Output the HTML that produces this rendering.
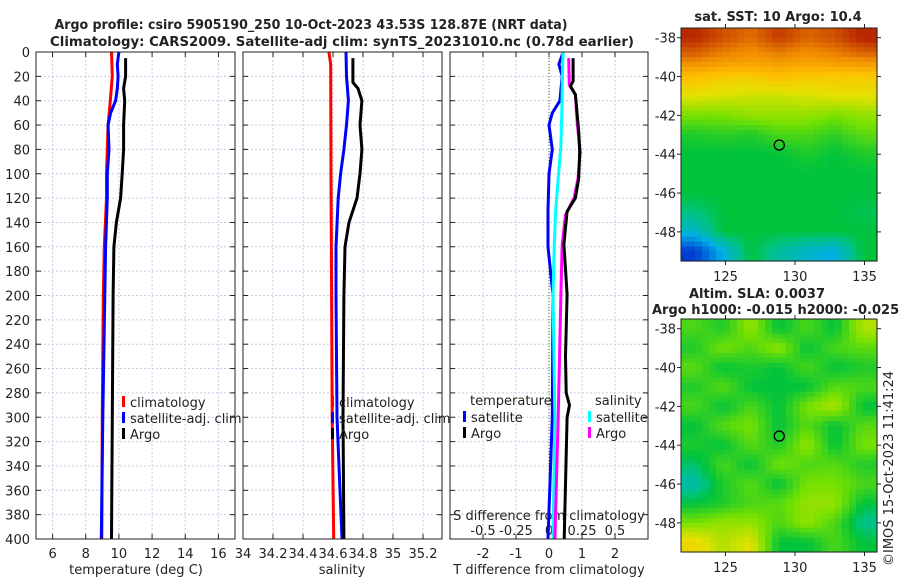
<!DOCTYPE html>
<html><head><meta charset="utf-8"><style>
body{margin:0;background:#fff;}
svg{display:block;font-family:"DejaVu Sans","Liberation Sans",sans-serif;}
</style></head><body>
<svg id="fig" width="900" height="580" viewBox="0 0 900 580"></svg>
<script>
const depthTicks=[0,20,40,60,80,100,120,140,160,180,200,220,240,260,280,300,320,340,360,380,400];
const tTicks=[6,8,10,12,14,16];
const sTicks=[34,34.2,34.4,34.6,34.8,35,35.2];
const sTickLabels=["34","34.2","34.4","34.6","34.8","35","35.2"];
const dTTicks=[-2,-1,0,1,2];
const dSTickLabels=["-0.5","-0.25","0","0.25","0.5"];
const dSTicks=[-0.5,-0.25,0,0.25,0.5];

const tClimDepth=[0,20,40,60,80,100,120,160,200,300,400];
const tClimVal=[9.55,9.6,9.48,9.35,9.3,9.25,9.25,9.12,9.06,9.0,8.97];
const tSatDepth=[0,10,20,30,40,50,60,80,100,120,160,200,300,400];
const tSatVal=[10.0,9.9,9.95,9.9,9.8,9.5,9.35,9.4,9.3,9.3,9.2,9.15,9.03,8.94];
const tArgoDepth=[5,20,30,40,60,80,100,120,140,160,200,300,400];
const tArgoVal=[10.4,10.4,10.28,10.35,10.28,10.28,10.2,10.1,9.85,9.7,9.65,9.6,9.55];

const sClimDepth=[0,10,100,300,400];
const sClimVal=[34.573,34.585,34.587,34.595,34.605];
const sSatDepth=[0,20,40,60,80,100,120,160,200,300,400];
const sSatVal=[34.687,34.69,34.703,34.69,34.673,34.651,34.635,34.62,34.62,34.627,34.66];
const sArgoDepth=[5,25,30,40,60,80,100,120,140,160,200,300,400];
const sArgoVal=[34.733,34.733,34.767,34.793,34.78,34.793,34.78,34.76,34.707,34.68,34.673,34.667,34.673];

const dTSatDepth=[0,10,20,40,50,60,80,100,130,160,200,300,400];
const dTSatVal=[0.43,0.3,0.4,0.33,0.1,0,0.1,0,-0.03,-0.03,0.12,0.1,-0.03];
const dTArgoDepth=[5,24,28,35,65,82,104,120,131,158,199,250,280,290,300,400];
const dTArgoVal=[0.73,0.73,0.65,0.8,0.9,0.93,0.9,0.8,0.55,0.45,0.55,0.5,0.52,0.62,0.55,0.46];
const dSSatDepth=[0,49,77,104,131,158,199,300,400];
const dSSatVal=[0.105,0.097,0.09,0.07,0.05,0.04,0.03,0.045,0.03];
const dSArgoDepth=[5,27,35,60,82,104,120,134,158,199,300,400];
const dSArgoVal=[0.149,0.154,0.2,0.215,0.236,0.22,0.19,0.125,0.1,0.09,0.07,0.045];

const lonTicks=[125,130,135];
const latTicks=[-38,-40,-42,-44,-46,-48];
const sstGrid=[
[0.92,0.88,0.85,0.9,0.86,0.88,0.93],
[0.85,0.82,0.8,0.82,0.8,0.82,0.84],
[0.72,0.7,0.7,0.72,0.7,0.7,0.7],
[0.66,0.65,0.64,0.64,0.65,0.66,0.66],
[0.58,0.58,0.6,0.6,0.6,0.58,0.6],
[0.52,0.53,0.52,0.55,0.55,0.53,0.56],
[0.5,0.5,0.5,0.5,0.52,0.5,0.52],
[0.5,0.5,0.5,0.5,0.5,0.5,0.5],
[0.5,0.5,0.5,0.5,0.5,0.5,0.5],
[0.47,0.5,0.5,0.5,0.5,0.5,0.49],
[0.42,0.5,0.5,0.5,0.5,0.5,0.5],
[0.3,0.4,0.5,0.45,0.42,0.4,0.5]];
const slaGrid=[
[0.55,0.52,0.6,0.5,0.55,0.5,0.62],
[0.52,0.58,0.55,0.6,0.5,0.55,0.56],
[0.56,0.5,0.52,0.5,0.55,0.5,0.52],
[0.52,0.56,0.5,0.5,0.5,0.56,0.55],
[0.55,0.5,0.55,0.5,0.58,0.62,0.5],
[0.5,0.56,0.58,0.5,0.56,0.5,0.56],
[0.52,0.5,0.56,0.52,0.6,0.5,0.58],
[0.48,0.55,0.5,0.58,0.55,0.56,0.52],
[0.44,0.52,0.56,0.5,0.58,0.58,0.55],
[0.5,0.52,0.55,0.56,0.6,0.6,0.5],
[0.58,0.6,0.6,0.55,0.6,0.55,0.46],
[0.68,0.62,0.66,0.5,0.5,0.55,0.5]];
const argoLon=128.87, argoLat=-43.53;

const svg=document.getElementById('fig');
const NS='http://www.w3.org/2000/svg';
function mk(tag,attrs,parent,name){const e=document.createElementNS(NS,tag);for(const k in attrs)e.setAttribute(k,attrs[k]);


(parent||svg).appendChild(e);return e;}
function txt(x,y,s,attrs,name){const e=mk('text',Object.assign({x:x,y:y,'font-size':13,fill:'#222'},attrs||{}),svg,name);e.textContent=s;return e;}

const PT=52,PB=539;
const yD=d=>PT+(PB-PT)*d/400;
function panel(x0,x1,vmin,vmax,name){
  const xf=v=>x0+(x1-x0)*(v-vmin)/(vmax-vmin);
  return {x0,x1,xf,name};
}
const p1=panel(36,235,5,17,'temperature-panel');
const p2=panel(243,442,34,35.3267,'salinity-panel');
const p3=panel(450,648,-3,3,'difference-panel');
const p3s=v=>p3.x0+(p3.x1-p3.x0)*(v*4+3)/6;

function frame(p,xt,xl,labelY){
  const g=mk('g',{},svg,p.name);
  depthTicks.forEach(d=>{mk('line',{x1:p.x0,x2:p.x1,y1:yD(d),y2:yD(d),stroke:'#c8cce6','stroke-width':1,'stroke-dasharray':'2,2'},g,'h-grid-line');
    mk('line',{x1:p.x0,x2:p.x0+5,y1:yD(d),y2:yD(d),stroke:'#222'},g,'y-tick');
    mk('line',{x1:p.x1,x2:p.x1-5,y1:yD(d),y2:yD(d),stroke:'#222'},g,'y-tick');});
  xt.forEach((v,i)=>{const x=p.xf(v);mk('line',{x1:x,x2:x,y1:PT,y2:PB,stroke:'#c8cce6','stroke-width':1,'stroke-dasharray':'2,2'},g,'v-grid-line');
    mk('line',{x1:x,x2:x,y1:PB,y2:PB-5,stroke:'#222'},g,'x-tick');
    mk('line',{x1:x,x2:x,y1:PT,y2:PT+5,stroke:'#222'},g,'x-tick');
    txt(x,labelY,xl[i],{'text-anchor':'middle'},'x-tick-label');});
  return g;
}
function series(p,xf,depths,vals,color,name,w){
  const pts=depths.map((d,i)=>xf(vals[i]).toFixed(1)+','+yD(d).toFixed(1)).join(' ');
  mk('polyline',{points:pts,fill:'none',stroke:color,'stroke-width':w||3,'stroke-linejoin':'round'},svg,name);
}
function box(p){mk('rect',{x:p.x0,y:PT,width:p.x1-p.x0,height:PB-PT,fill:'none',stroke:'#222','stroke-width':1},svg,p.name+'-frame');}

frame(p1,tTicks,tTicks.map(String),558);
frame(p2,sTicks,sTickLabels,558);
frame(p3,dTTicks,dTTicks.map(String),558);
depthTicks.forEach(d=>txt(30,yD(d)+5,String(d),{'text-anchor':'end'},'depth-tick-label'));
mk('line',{x1:p3.xf(0),x2:p3.xf(0),y1:PT,y2:PB,stroke:'#556b2f','stroke-width':1,'stroke-dasharray':'1,2'},svg,'zero-line');
dSTicks.forEach((v,i)=>txt(p3s(v),535,dSTickLabels[i],{'text-anchor':'middle'},'s-diff-tick-label'));
txt(549,520,'S difference from climatology',{'text-anchor':'middle'},'s-diff-axis-title');

series(p1,p1.xf,tClimDepth,tClimVal,'#ff0000','temp-climatology-line');
series(p1,p1.xf,tSatDepth,tSatVal,'#0000ff','temp-satellite-line');
series(p1,p1.xf,tArgoDepth,tArgoVal,'#000000','temp-argo-line');
series(p2,p2.xf,sClimDepth,sClimVal,'#ff0000','sal-climatology-line');
series(p2,p2.xf,sSatDepth,sSatVal,'#0000ff','sal-satellite-line');
series(p2,p2.xf,sArgoDepth,sArgoVal,'#000000','sal-argo-line');
series(p3,p3.xf,dTSatDepth,dTSatVal,'#0000ff','tdiff-satellite-line');
series(p3,p3s,dSSatDepth,dSSatVal,'#00ffff','sdiff-satellite-line');
series(p3,p3s,dSArgoDepth,dSArgoVal,'#ff00ff','sdiff-argo-line');
series(p3,p3.xf,dTArgoDepth,dTArgoVal,'#000000','tdiff-argo-line');
box(p1);box(p2);box(p3);

function legend(x,y,label,color,name){
  mk('rect',{x:x,y:y-11,width:3,height:11,fill:color},svg,name+'-marker');
  txt(x+8,y,label,{},name);
}
[[122,'climatology','#ff0000'],[122,'satellite-adj. clim','#0000ff'],[122,'Argo','#000000']].forEach((l,i)=>legend(l[0],407+i*16,l[1],l[2],'legend-entry'));
[[331,'climatology','#ff0000'],[331,'satellite-adj. clim','#0000ff'],[331,'Argo','#000000']].forEach((l,i)=>legend(l[0],407+i*16,l[1],l[2],'legend-entry'));
txt(470,405,'temperature',{},'legend-title-temperature');
legend(463,422,'satellite','#0000ff','legend-entry');
legend(463,438,'Argo','#000000','legend-entry');
txt(595,405,'salinity',{},'legend-title-salinity');
legend(588,422,'satellite','#00ffff','legend-entry');
legend(588,438,'Argo','#ff00ff','legend-entry');

txt(136,574,'temperature (deg C)',{'text-anchor':'middle'},'x-axis-title-temperature');
txt(342,574,'salinity',{'text-anchor':'middle'},'x-axis-title-salinity');
txt(549,574,'T difference from climatology',{'text-anchor':'middle'},'x-axis-title-tdiff');
txt(311,29,'Argo profile: csiro 5905190_250 10-Oct-2023 43.53S 128.87E (NRT data)',{'text-anchor':'middle','font-weight':'bold','textLength':513,'lengthAdjust':'spacingAndGlyphs'},'title-line-1');
txt(342,46,'Climatology: CARS2009. Satellite-adj clim: synTS_20231010.nc (0.78d earlier)',{'text-anchor':'middle','font-weight':'bold','textLength':584,'lengthAdjust':'spacingAndGlyphs'},'title-line-2');

const cstops=[[0.3,[0,60,210]],[0.4,[0,175,230]],[0.47,[0,195,130]],[0.5,[0,195,60]],[0.58,[120,225,0]],[0.66,[230,225,0]],[0.72,[255,190,0]],[0.82,[240,140,0]],[0.92,[185,40,0]]];
function cmap(v){if(v<=cstops[0][0])return 'rgb('+cstops[0][1]+')';
  for(let i=1;i<cstops.length;i++){if(v<=cstops[i][0]){const a=cstops[i-1],b=cstops[i],t=(v-a[0])/(b[0]-a[0]);
    return 'rgb('+a[1].map((c,j)=>Math.round(c+(b[1][j]-c)*t)).join(',')+')';}}
  return 'rgb('+cstops[cstops.length-1][1]+')';}
function sample(grid,fr,fc){
  const R=grid.length,C=grid[0].length;
  const r=Math.min(Math.max(fr-0.5,0),R-1),c=Math.min(Math.max(fc-0.5,0),C-1);
  const r0=Math.floor(r),c0=Math.floor(c),r1=Math.min(r0+1,R-1),c1=Math.min(c0+1,C-1),tr=r-r0,tc=c-c0;
  return grid[r0][c0]*(1-tr)*(1-tc)+grid[r0][c1]*(1-tr)*tc+grid[r1][c0]*tr*(1-tc)+grid[r1][c1]*tr*tc;
}
function map(y0,grid,name){
  const X0=681,X1=877,H=233,lonMin=121.8,lonMax=135.9,latTop=-37.5,latBot=-49.5;
  const xf=l=>X0+(X1-X0)*(l-lonMin)/(lonMax-lonMin);
  const yf=l=>y0+H*(latTop-l)/(latTop-latBot);
  const g=mk('g',{},svg,name);
  const rows=grid.length,cols=grid[0].length,S=4;
  for(let r=0;r<rows*S;r++)for(let c=0;c<cols*S;c++){
    const v=sample(grid,(r+0.5)/S,(c+0.5)/S);
    mk('rect',{x:X0+(X1-X0)*c/(cols*S),y:y0+H*r/(rows*S),width:(X1-X0)/(cols*S)+0.6,height:H/(rows*S)+0.6,fill:cmap(v)},g,'map-cell');}
  mk('rect',{x:X0,y:y0,width:X1-X0,height:H,fill:'none',stroke:'#222'},g,'map-frame');
  lonTicks.forEach(l=>{const x=xf(l);mk('line',{x1:x,x2:x,y1:y0+H,y2:y0+H+4,stroke:'#222'},g,'lon-tick');
    mk('line',{x1:x,x2:x,y1:y0,y2:y0-4,stroke:'#222'},g,'lon-tick');
    txt(x,y0+H+20,String(l),{'text-anchor':'middle'},'lon-tick-label');});
  latTicks.forEach(l=>{const y=yf(l);mk('line',{x1:X0,x2:X0-4,y1:y,y2:y,stroke:'#222'},g,'lat-tick');
    mk('line',{x1:X1,x2:X1+4,y1:y,y2:y,stroke:'#222'},g,'lat-tick');
    txt(676,y+5,String(l),{'text-anchor':'end'},'lat-tick-label');});
  mk('circle',{cx:xf(argoLon),cy:yf(argoLat),r:5,fill:'none',stroke:'#000','stroke-width':1.3},g,'argo-location-marker');
}
map(28,sstGrid,'sst-map');
map(319,slaGrid,'sla-map');
txt(778,21,'sat. SST: 10 Argo: 10.4',{'text-anchor':'middle','font-weight':'bold'},'sst-map-title');
txt(757,298,'Altim. SLA: 0.0037',{'text-anchor':'middle','font-weight':'bold'},'sla-map-title');
txt(652,314,'Argo h1000: -0.015 h2000: -0.025',{'font-weight':'bold'},'sla-map-subtitle');
txt(0,0,'©IMOS 15-Oct-2023 11:41:24',{transform:'translate(893,566) rotate(-90)'},'copyright-timestamp');
</script>
</body></html>
